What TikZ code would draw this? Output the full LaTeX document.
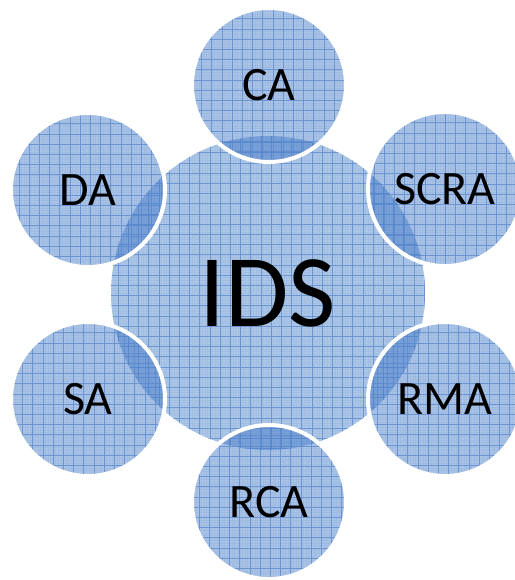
\documentclass[tikz,border=0pt]{standalone}
\usepackage{fontspec}
\setmainfont{Carlito}
\definecolor{basefill}{RGB}{176,200,232}
\definecolor{smallfill}{RGB}{63,118,198}
\definecolor{gridblue}{RGB}{88,136,204}
\begin{document}
\begin{tikzpicture}[x=1pt,y=-1pt,
  gridpic/.style={path picture={
      \draw[gridblue,line width=0.7pt,draw opacity=0.75]
        ([xshift=-10pt,yshift=-10pt]path picture bounding box.south west) grid[step=10.2pt]
        ([xshift=10pt,yshift=10pt]path picture bounding box.north east);
      \draw[gridblue,line width=0.3pt,draw opacity=0.15]
        ([xshift=-10pt,yshift=-10pt]path picture bounding box.south west) grid[step=2.55pt]
        ([xshift=10pt,yshift=10pt]path picture bounding box.north east);
  }},
  bigcirc/.style={circle,fill=basefill,minimum size=314pt,inner sep=0pt,gridpic,
    font=\fontsize{103}{103}\selectfont},
  smallcirc/.style={circle,draw=white,line width=4pt,fill=smallfill,fill opacity=0.43,
    text opacity=1,minimum size=154pt,inner sep=0pt,gridpic,
    font=\fontsize{48}{48}\selectfont}
]
\useasboundingbox (0,0) rectangle (514,580);
\node[bigcirc] (ids) at (268,293) {IDS};
\node[smallcirc] (ca) at (269,85) {CA};
\node[smallcirc] (scra) at (445,189) {SCRA};
\node[smallcirc] (rma) at (445,399) {RMA};
\node[smallcirc] (rca) at (269,502) {RCA};
\node[smallcirc] (sa) at (88,399) {SA};
\node[smallcirc] (da) at (88,190) {DA};
\end{tikzpicture}
\end{document}
